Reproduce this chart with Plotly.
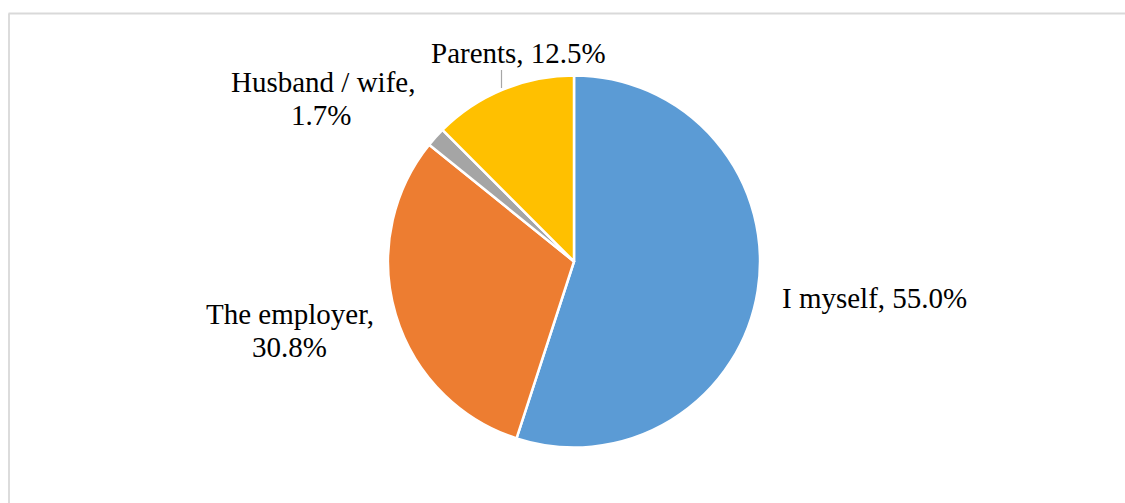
import plotly.graph_objects as go

# Who pays: share of respondents
categories = ["I myself", "The employer", "Husband / wife", "Parents"]
shares = [55.0, 30.8, 1.7, 12.5]
colors = ["#5B9BD5", "#ED7D31", "#A5A5A5", "#FFC000"]

W, H = 1125, 503
FONT = "Liberation Serif, Times New Roman, serif"
FS = 29

# pie geometry in pixels
cx, cy, r = 574, 261.5, 186


def px_x(x):
    return x / W


def px_y(y):
    return 1 - y / H


fig = go.Figure(
    go.Pie(
        labels=categories,
        values=shares,
        sort=False,
        direction="clockwise",
        rotation=0,
        marker=dict(colors=colors, line=dict(color="white", width=2.5)),
        textinfo="none",
        hoverinfo="label+percent",
        showlegend=False,
        domain=dict(x=[px_x(cx - r), px_x(cx + r)], y=[px_y(cy + r), px_y(cy - r)]),
    )
)


def label_lines(i):
    name, val = categories[i], shares[i]
    return name, f"{val:.1f}%"


annotations = []

# I myself (single line, left-aligned)
n, v = label_lines(0)
annotations.append(dict(text=f"{n}, {v}", x=px_x(779.5), y=px_y(297.5),
                        xanchor="left", yanchor="middle"))
# The employer (two lines)
n, v = label_lines(1)
annotations.append(dict(text=f"{n},", x=px_x(289.5), y=px_y(313.5), xanchor="center", yanchor="middle"))
annotations.append(dict(text=v, x=px_x(289.5), y=px_y(346.5), xanchor="center", yanchor="middle"))
# Husband / wife (two lines)
n, v = label_lines(2)
annotations.append(dict(text=f"{n},", x=px_x(323), y=px_y(82), xanchor="center", yanchor="middle"))
annotations.append(dict(text=v, x=px_x(320.5), y=px_y(115), xanchor="center", yanchor="middle"))
# Parents (single line)
n, v = label_lines(3)
annotations.append(dict(text=f"{n}, {v}", x=px_x(518.5), y=px_y(53.5), xanchor="center", yanchor="middle"))

for a in annotations:
    a.update(xref="paper", yref="paper", showarrow=False,
             font=dict(family=FONT, size=FS, color="#000000"))

shapes = [
    # leader line for Parents label
    dict(type="line", xref="paper", yref="paper",
         x0=px_x(501.5), x1=px_x(501.5), y0=px_y(70), y1=px_y(88),
         line=dict(color="#A6A6A6", width=1.2)),
    # chart frame (top and left edges)
    dict(type="line", xref="paper", yref="paper",
         x0=px_x(8.5), x1=1.0, y0=px_y(13.5), y1=px_y(13.5),
         line=dict(color="#D9D9D9", width=1.8)),
    dict(type="line", xref="paper", yref="paper",
         x0=px_x(9), x1=px_x(9), y0=px_y(13.5), y1=0.0,
         line=dict(color="#D9D9D9", width=1.8)),
]

fig.update_layout(
    width=W, height=H,
    margin=dict(l=0, r=0, t=0, b=0),
    paper_bgcolor="white", plot_bgcolor="white",
    annotations=annotations,
    shapes=shapes,
)

fig.write_html("out.html")
